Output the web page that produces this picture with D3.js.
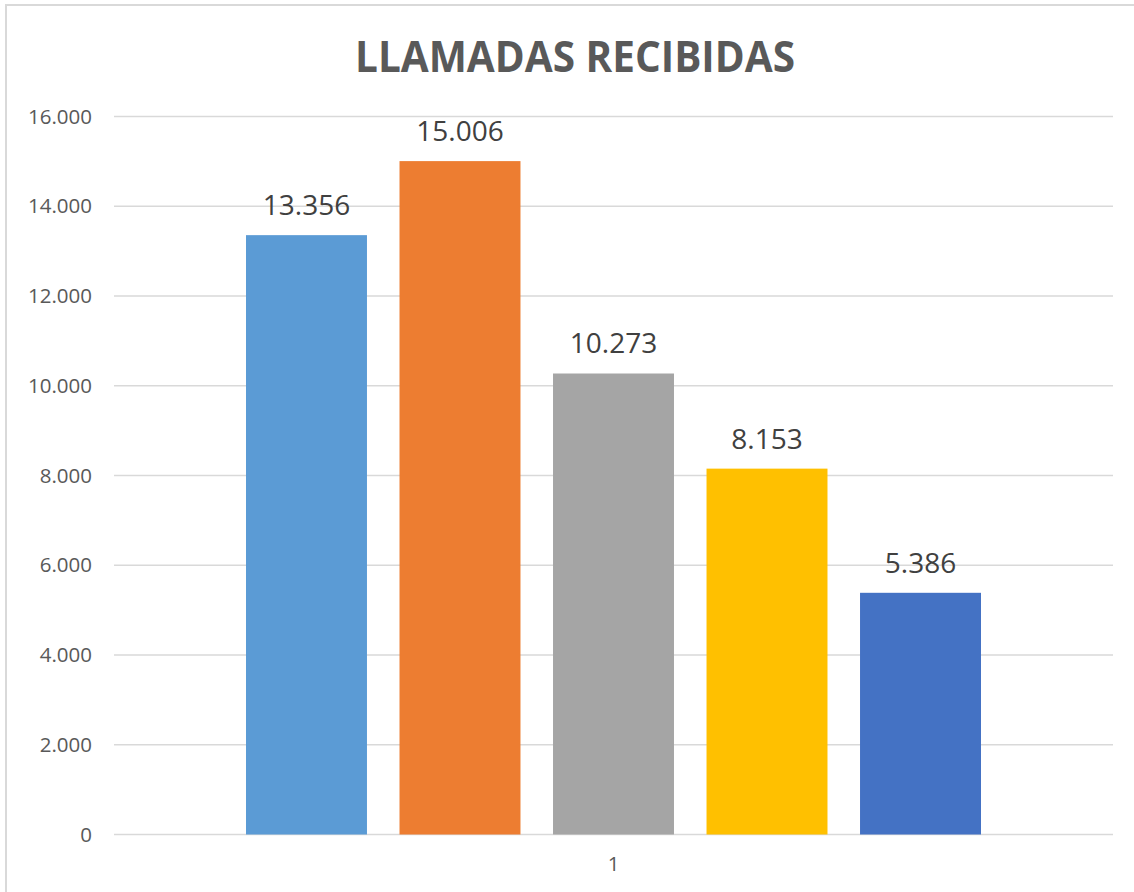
<!DOCTYPE html>
<html>
<head>
<meta charset="utf-8">
<script src="https://cdn.jsdelivr.net/npm/d3@7"></script>
<style>
  html, body { margin: 0; padding: 0; background: #fff; }
  svg { display: block; }
</style>
</head>
<body>
<svg id="chart" width="1134" height="892"></svg>
<script>
const title = "LLAMADAS RECIBIDAS";
const categories = ["1"];
const seriesNames = ["S1", "S2", "S3", "S4", "S5"];
const seriesValues = [13356, 15006, 10273, 8153, 5386];
const seriesColors = ["#5B9BD5", "#ED7D31", "#A5A5A5", "#FFC000", "#4472C4"];
const yTicks = [0, 2000, 4000, 6000, 8000, 10000, 12000, 14000, 16000];

const fmt = v => d3.format(",")(v).replace(/,/g, ".");

const svg = d3.select("#chart");
const W = 1134, H = 892;
const plot = { left: 114, right: 1113, top: 116.5, bottom: 834.5 };

// chart border
svg.append("rect")
  .attr("x", 6).attr("y", 5)
  .attr("width", W + 10).attr("height", H + 10)
  .attr("fill", "#fff")
  .attr("stroke", "#d9d9d9").attr("stroke-width", 2);

const y = d3.scaleLinear().domain([0, 16000]).range([plot.bottom, plot.top]);
const x0 = d3.scaleBand().domain(categories).range([plot.left, plot.right])
  .paddingInner(0).paddingOuter(0.1796);
const x1 = d3.scaleBand().domain(seriesNames).range([0, x0.bandwidth()])
  .paddingInner(0.212).paddingOuter(0);

// gridlines
svg.append("g").selectAll("line").data(yTicks).join("line")
  .attr("x1", plot.left).attr("x2", plot.right)
  .attr("y1", d => y(d)).attr("y2", d => y(d))
  .attr("stroke", "#d9d9d9").attr("stroke-width", 1.6);

// y axis labels
const yAxis = d3.axisLeft(y).tickValues(yTicks).tickFormat(fmt).tickSize(0).tickPadding(22);
const gy = svg.append("g").attr("transform", `translate(${plot.left},0)`).call(yAxis);
gy.select(".domain").remove();
gy.selectAll("text")
  .attr("font-family", "'Open Sans', 'Noto Sans', sans-serif")
  .attr("font-size", 20.5)
  .attr("fill", "#595959");

// bars
const data = seriesNames.map((s, i) => ({ cat: categories[0], s, v: seriesValues[i], c: seriesColors[i] }));
const bars = svg.append("g");
bars.selectAll("rect").data(data).join("rect")
  .attr("x", d => x0(d.cat) + x1(d.s))
  .attr("width", x1.bandwidth())
  .attr("y", d => y(d.v))
  .attr("height", d => y(0) - y(d.v))
  .attr("fill", d => d.c);

// value labels
bars.selectAll("text").data(data).join("text")
  .attr("x", d => x0(d.cat) + x1(d.s) + x1.bandwidth() / 2)
  .attr("y", d => y(d.v) - 20)
  .attr("text-anchor", "middle")
  .attr("font-family", "'Open Sans', 'Noto Sans', sans-serif")
  .attr("font-size", 28)
  .attr("fill", "#404040")
  .text(d => fmt(d.v));

// x axis label
const xAxis = d3.axisBottom(x0).tickSize(0).tickPadding(22);
const gx = svg.append("g").attr("transform", `translate(0,${plot.bottom})`).call(xAxis);
gx.select(".domain").remove();
gx.selectAll("text")
  .attr("font-family", "'Open Sans', 'Noto Sans', sans-serif")
  .attr("font-size", 20.5)
  .attr("fill", "#595959");

// title
svg.append("text")
  .attr("x", 575).attr("y", 71.5)
  .attr("text-anchor", "middle")
  .attr("font-family", "'Open Sans', 'Noto Sans', sans-serif")
  .attr("font-weight", "bold")
  .attr("font-size", 43)
  .attr("textLength", 440)
  .attr("lengthAdjust", "spacingAndGlyphs")
  .attr("fill", "#595959")
  .text(title);
</script>
</body>
</html>
